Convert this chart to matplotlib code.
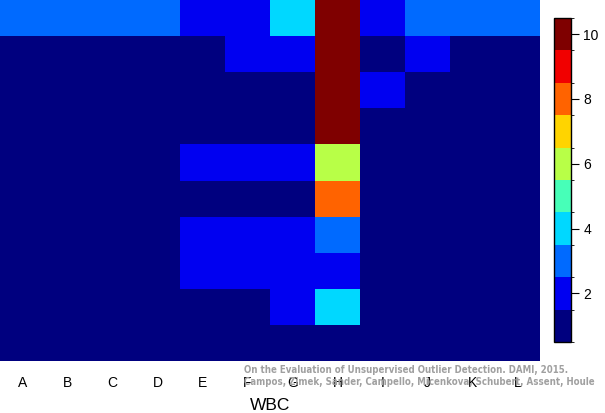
import numpy as np
import matplotlib
matplotlib.use("Agg")
import matplotlib.pyplot as plt
from matplotlib.colors import ListedColormap, BoundaryNorm

# columns of the heatmap and the values per row (top row first)
columns = ["A", "B", "C", "D", "E", "F", "G", "H", "I", "J", "K", "L"]
rows = [
    [3, 3, 3, 3, 2, 2, 4, 10, 2, 3, 3, 3],
    [1, 1, 1, 1, 1, 2, 2, 10, 1, 2, 1, 1],
    [1, 1, 1, 1, 1, 1, 1, 10, 2, 1, 1, 1],
    [1, 1, 1, 1, 1, 1, 1, 10, 1, 1, 1, 1],
    [1, 1, 1, 1, 2, 2, 2, 6, 1, 1, 1, 1],
    [1, 1, 1, 1, 1, 1, 1, 8, 1, 1, 1, 1],
    [1, 1, 1, 1, 2, 2, 2, 3, 1, 1, 1, 1],
    [1, 1, 1, 1, 2, 2, 2, 2, 1, 1, 1, 1],
    [1, 1, 1, 1, 1, 1, 2, 4, 1, 1, 1, 1],
    [1, 1, 1, 1, 1, 1, 1, 1, 1, 1, 1, 1],
]
cbar_ticks = [2, 4, 6, 8, 10]
dataset = "WBC"
caption = ("On the Evaluation of Unsupervised Outlier Detection. DAMI, 2015.\n"
           "Campos, Zimek, Sander, Campello, Micenkova, Schubert, Assent, Houle")

# R style jet palette with 10 levels
jet10 = ["#00007F", "#0000F1", "#006AFF", "#00D8FF", "#47FFB8",
         "#B8FF47", "#FFD400", "#FF6300", "#F10000", "#7F0000"]
cmap = ListedColormap(jet10)
norm = BoundaryNorm(np.arange(0.5, 11.5, 1), cmap.N)

W, H = 605, 413
fig = plt.figure(figsize=(W / 100, H / 100), dpi=100)
plt.rcParams["font.family"] = ["Liberation Sans", "DejaVu Sans"]

ax = fig.add_axes([0, 1 - 361 / H, 540 / W, 361 / H])
data = np.array(rows)
ax.pcolormesh(np.arange(len(columns) + 1), np.arange(len(rows) + 1), data,
              cmap=cmap, norm=norm)
ax.set_xlim(0, len(columns))
ax.set_ylim(len(rows), 0)
ax.set_yticks([])
ax.set_xticks(np.arange(len(columns)) + 0.5)
ax.set_xticklabels(columns, fontsize=10)
ax.tick_params(axis="x", length=0, pad=11)
for s in ax.spines.values():
    s.set_visible(False)
fig.text(270 / W, 1 - 405 / H, dataset, ha="center", va="center", fontsize=12.5)

cax = fig.add_axes([554 / W, 1 - 342 / H, 17 / W, 324 / H])
cb = fig.colorbar(plt.cm.ScalarMappable(norm=norm, cmap=cmap), cax=cax,
                  ticks=cbar_ticks, drawedges=False)
cb.outline.set_linewidth(1.0)
cax.tick_params(length=6, width=0.8, labelsize=10, pad=3)

fig.text(244 / W, 1 - 376 / H, caption, ha="left", va="center",
         fontsize=6.9, color="#a0a0a0", fontweight="bold",
         family="DejaVu Sans", fontstretch="condensed", linespacing=1.2,
         zorder=0)

fig.savefig("out.png", dpi=100)
